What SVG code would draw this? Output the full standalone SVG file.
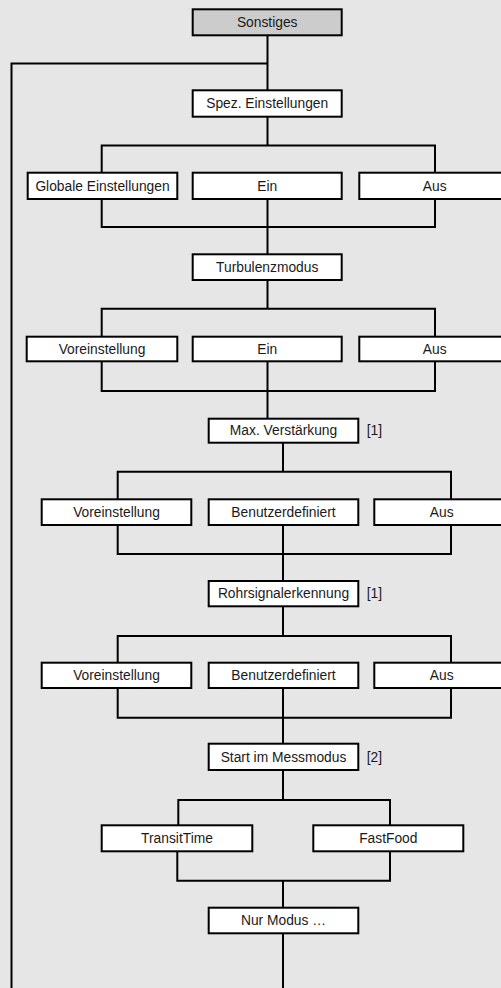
<svg xmlns="http://www.w3.org/2000/svg" width="501" height="988" viewBox="0 0 501 988">
<style>
.box{fill:#ffffff;stroke:#000;stroke-width:2}
.root{fill:#cccccc;stroke:#000;stroke-width:2}
.t{font-family:"Liberation Sans",Arial,sans-serif;font-size:13.8px;fill:#1a1a1a;text-anchor:middle}
.n{font-family:"Liberation Sans",Arial,sans-serif;font-size:13.8px;fill:#1a1a1a}
.c{fill:none;stroke:#000;stroke-width:2}
</style>
<rect x="0" y="0" width="501" height="988" fill="#e6e6e6"/>
<g id="connectors" class="c">
<path d="M267.5,35.5 V90.3"/>
<path d="M267.5,63.5 H11.5 V988"/>
<path d="M267.5,116.7 V145.5"/>
<path d="M101.7,172.7 V145.5 H435 V172.7"/>
<path d="M101.7,199 V227 H435 V199"/>
<path d="M267.5,199 V254.3"/>
<path d="M267.5,280 V308.7"/>
<path d="M101.7,336.7 V308.7 H435 V336.7"/>
<path d="M101.7,361.3 V391 H435 V361.3"/>
<path d="M267.5,361.3 V418.7"/>
<path d="M283,442.7 V471.7"/>
<path d="M117.7,499.3 V471.7 H451 V499.3"/>
<path d="M117.7,525 V554 H451 V525"/>
<path d="M283,525 V581"/>
<path d="M283,606.3 V636"/>
<path d="M117.7,662.7 V636 H451 V662.7"/>
<path d="M117.7,688 V717.7 H451 V688"/>
<path d="M283,688 V743.7"/>
<path d="M283,770 V800"/>
<path d="M178.3,825.3 V800 H390 V825.3"/>
<path d="M177.3,851.3 V880.7 H390 V851.3"/>
<path d="M283,880.7 V907.7"/>
<path d="M283,933.3 V988"/>
</g>
<g id="sonstiges"><rect class="root" x="192.7" y="9.3" width="149" height="26"/><text class="t" x="267.2" y="27">Sonstiges</text></g>
<g id="spez"><rect class="box" x="192.7" y="90.3" width="149" height="26.4"/><text class="t" x="267.2" y="108.1">Spez. Einstellungen</text></g>
<g id="globale"><rect class="box" x="27.7" y="172.7" width="149.6" height="26.3"/><text class="t" x="102.5" y="190.5">Globale Einstellungen</text></g>
<g id="ein1"><rect class="box" x="192.7" y="172.7" width="149" height="26.3"/><text class="t" x="267.2" y="190.5">Ein</text></g>
<g id="aus1"><rect class="box" x="359.3" y="172.7" width="150" height="26.3"/><text class="t" x="434.7" y="190.5">Aus</text></g>
<g id="turbulenz"><rect class="box" x="192.7" y="254.3" width="149" height="25.7"/><text class="t" x="267.2" y="271.8">Turbulenzmodus</text></g>
<g id="vor2"><rect class="box" x="26.7" y="336.7" width="150.6" height="24.6"/><text class="t" x="102" y="353.6">Voreinstellung</text></g>
<g id="ein2"><rect class="box" x="192.7" y="336.7" width="149" height="24.6"/><text class="t" x="267.2" y="353.6">Ein</text></g>
<g id="aus2"><rect class="box" x="359.3" y="336.7" width="150" height="24.6"/><text class="t" x="434.7" y="353.6">Aus</text></g>
<g id="maxv"><rect class="box" x="208.7" y="418.7" width="149.6" height="24"/><text class="t" x="283.5" y="435.3">Max. Verstärkung</text><text class="n" x="366.7" y="435.3">[1]</text></g>
<g id="vor3"><rect class="box" x="41.7" y="499.3" width="149.6" height="25.7"/><text class="t" x="116.5" y="516.8">Voreinstellung</text></g>
<g id="ben3"><rect class="box" x="208.7" y="499.3" width="149.6" height="25.7"/><text class="t" x="283.5" y="516.8">Benutzerdefiniert</text></g>
<g id="aus3"><rect class="box" x="374.3" y="499.3" width="150" height="25.7"/><text class="t" x="441.7" y="516.8">Aus</text></g>
<g id="rohr"><rect class="box" x="208.7" y="581" width="149.6" height="25.3"/><text class="t" x="283.5" y="598.3">Rohrsignalerkennung</text><text class="n" x="366.7" y="598.3">[1]</text></g>
<g id="vor4"><rect class="box" x="41.7" y="662.7" width="149.6" height="25.3"/><text class="t" x="116.5" y="680">Voreinstellung</text></g>
<g id="ben4"><rect class="box" x="208.7" y="662.7" width="149.6" height="25.3"/><text class="t" x="283.5" y="680">Benutzerdefiniert</text></g>
<g id="aus4"><rect class="box" x="374.3" y="662.7" width="150" height="25.3"/><text class="t" x="441.7" y="680">Aus</text></g>
<g id="start"><rect class="box" x="208.7" y="743.7" width="149.6" height="26.3"/><text class="t" x="283.5" y="761.5">Start im Messmodus</text><text class="n" x="366.7" y="761.5">[2]</text></g>
<g id="transit"><rect class="box" x="101.7" y="825.3" width="150.6" height="26"/><text class="t" x="177" y="842.9">TransitTime</text></g>
<g id="fastfood"><rect class="box" x="313.3" y="825.3" width="150" height="26"/><text class="t" x="388.3" y="842.9">FastFood</text></g>
<g id="nurmodus"><rect class="box" x="208.7" y="907.7" width="149.6" height="25.6"/><text class="t" x="283.5" y="925.1">Nur Modus …</text></g>
</svg>
